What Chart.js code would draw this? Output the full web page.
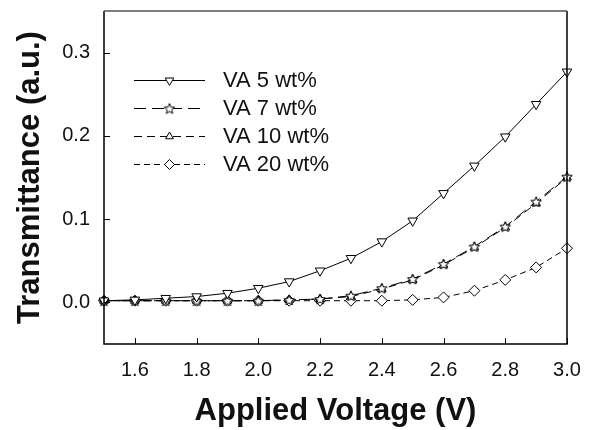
<!DOCTYPE html>
<html>
<head>
<meta charset="utf-8">
<script src="https://cdn.jsdelivr.net/npm/chart.js@4/dist/chart.umd.min.js"></script>
<style>
  body { margin: 0; background: #fff; }
  #wrap { width: 593px; height: 430px; }
</style>
</head>
<body>
<div id="wrap"><canvas id="chart" width="593" height="430"></canvas></div>
<script>
// voltage steps (V)
const voltages = [1.5, 1.6, 1.7, 1.8, 1.9, 2.0, 2.1, 2.2, 2.3, 2.4, 2.5, 2.6, 2.7, 2.8, 2.9, 3.0];

// transmittance per VA concentration
const va5  = [0.002, 0.003, 0.005, 0.007, 0.011, 0.017, 0.025, 0.038, 0.053, 0.073, 0.098, 0.131, 0.164, 0.199, 0.238, 0.277];
const va7  = [0.002, 0.002, 0.002, 0.002, 0.002, 0.002, 0.003, 0.004, 0.008, 0.017, 0.028, 0.046, 0.067, 0.091, 0.121, 0.151];
const va10 = [0.002, 0.002, 0.002, 0.002, 0.002, 0.002, 0.003, 0.004, 0.007, 0.016, 0.027, 0.045, 0.066, 0.090, 0.119, 0.150];
const va20 = [0.002, 0.002, 0.002, 0.002, 0.002, 0.002, 0.002, 0.002, 0.002, 0.002, 0.003, 0.006, 0.014, 0.027, 0.042, 0.065];

const seriesNames = ["VA 5 wt%", "VA 7 wt%", "VA 10 wt%", "VA 20 wt%"];

const xTicks = [1.6, 1.8, 2.0, 2.2, 2.4, 2.6, 2.8, 3.0];
const yTicks = [0.0, 0.1, 0.2, 0.3];

const FONT = "'Liberation Sans', Arial, sans-serif";

// small open star marker
function makeStar() {
  const c = document.createElement("canvas");
  c.width = 14; c.height = 14;
  const g = c.getContext("2d");
  g.beginPath();
  for (let i = 0; i < 10; i++) {
    const r = i % 2 === 0 ? 5.5 : 2.4;
    const a = -Math.PI / 2 + i * Math.PI / 5;
    const px = 7 + r * Math.cos(a), py = 7.5 + r * Math.sin(a);
    if (i === 0) g.moveTo(px, py); else g.lineTo(px, py);
  }
  g.closePath();
  g.fillStyle = "#fff";
  g.fill();
  g.lineWidth = 1;
  g.strokeStyle = "#000";
  g.stroke();
  return c;
}
const starImg = makeStar();

function toPoints(arr) {
  return arr.map((v, i) => ({ x: voltages[i], y: v }));
}

const baseSet = {
  borderColor: "#000",
  borderWidth: 1,
  pointBackgroundColor: "#fff",
  pointBorderColor: "#000",
  pointBorderWidth: 1,
  fill: false,
  tension: 0,
  clip: false
};

const datasets = [
  Object.assign({}, baseSet, { label: seriesNames[0], data: toPoints(va5),  borderDash: [],      pointStyle: "triangle", rotation: 180, pointRadius: 5.5 }),
  Object.assign({}, baseSet, { label: seriesNames[1], data: toPoints(va7),  borderDash: [12, 6], pointStyle: starImg,    pointRadius: 6 }),
  Object.assign({}, baseSet, { label: seriesNames[2], data: toPoints(va10), borderDash: [8, 5],  pointStyle: "triangle", pointRadius: 5 }),
  Object.assign({}, baseSet, { label: seriesNames[3], data: toPoints(va20), borderDash: [6, 4],  pointStyle: "rectRot",  pointRadius: 5.5 })
];

// frame, inward ticks and the in-plot legend
const framePlugin = {
  id: "frame",
  afterDraw(chart) {
    const ctx = chart.ctx;
    const a = chart.chartArea;
    const xs = chart.scales.x, ys = chart.scales.y;
    ctx.save();
    ctx.lineWidth = 1.5;
    ctx.strokeStyle = "#000";
    ctx.beginPath();
    ctx.moveTo(a.left, a.top);
    ctx.lineTo(a.left, a.bottom);
    ctx.lineTo(a.right, a.bottom);
    ctx.lineTo(a.right, a.top);
    ctx.stroke();
    ctx.strokeStyle = "#555";
    ctx.beginPath();
    ctx.moveTo(a.left, a.top);
    ctx.lineTo(a.right, a.top);
    ctx.stroke();

    ctx.strokeStyle = "#000";
    ctx.lineWidth = 1;
    ctx.beginPath();
    xTicks.forEach(v => {
      const px = Math.round(xs.getPixelForValue(v)) + 0.5;
      ctx.moveTo(px, a.bottom);
      ctx.lineTo(px, a.bottom - 6);
    });
    yTicks.forEach(v => {
      const py = Math.round(ys.getPixelForValue(v)) + 0.5;
      ctx.moveTo(a.left, py);
      ctx.lineTo(a.left + 6, py);
    });
    ctx.stroke();

    // legend
    const lx0 = 134, lx1 = 205, tx = 223;
    const rows = [80, 108, 136, 164];
    chart.data.datasets.forEach((ds, i) => {
      const y = rows[i];
      ctx.strokeStyle = "#000";
      ctx.lineWidth = 1;
      ctx.setLineDash(ds.borderDash);
      ctx.beginPath();
      ctx.moveTo(lx0, y + 0.5);
      ctx.lineTo(lx1, y + 0.5);
      ctx.stroke();
      ctx.setLineDash([]);
      ctx.fillStyle = "#fff";
      Chart.helpers.drawPoint(ctx, {
        pointStyle: ds.pointStyle,
        rotation: ds.rotation || 0,
        radius: ds.pointRadius - 0.5,
        borderWidth: 1
      }, (lx0 + lx1) / 2, y + 0.5);
      ctx.fillStyle = "#111";
      ctx.font = "22px " + FONT;
      ctx.textBaseline = "middle";
      ctx.textAlign = "left";
      ctx.fillText(ds.label, tx, y + 1);
    });
    ctx.restore();
  }
};

new Chart(document.getElementById("chart").getContext("2d"), {
  type: "line",
  data: { datasets: datasets },
  plugins: [framePlugin],
  options: {
    responsive: false,
    devicePixelRatio: 1,
    animation: false,
    layout: { padding: { top: 11, right: 26, left: 0, bottom: 0 } },
    plugins: {
      legend: { display: false },
      tooltip: { enabled: false }
    },
    scales: {
      x: {
        type: "linear",
        min: 1.5,
        max: 3.0,
        afterBuildTicks: s => { s.ticks = xTicks.map(v => ({ value: v })); },
        afterFit: s => { s.height = 86; s.paddingLeft = 0; s.paddingRight = 0; },
        border: { display: false },
        grid: { display: false, drawTicks: false },
        ticks: {
          padding: 14,
          color: "#111",
          font: { family: FONT, size: 20 },
          callback: v => v.toFixed(1),
          maxRotation: 0
        },
        title: {
          display: true,
          text: "Applied Voltage (V)",
          color: "#111",
          font: { family: FONT, size: 31, weight: "bold" },
          padding: { top: 8, bottom: 0 }
        }
      },
      y: {
        type: "linear",
        min: -0.05,
        max: 0.35,
        afterBuildTicks: s => { s.ticks = yTicks.map(v => ({ value: v })); },
        afterFit: s => { s.width = 104; s.paddingTop = 0; s.paddingBottom = 0; },
        border: { display: false },
        grid: { display: false, drawTicks: false },
        ticks: {
          padding: 14,
          color: "#111",
          font: { family: FONT, size: 20 },
          callback: v => v.toFixed(1)
        },
        title: {
          display: true,
          text: "Transmittance (a.u.)",
          color: "#111",
          font: { family: FONT, size: 31, weight: "bold" },
          padding: { top: 12, bottom: 0 }
        }
      }
    }
  }
});
</script>
</body>
</html>
